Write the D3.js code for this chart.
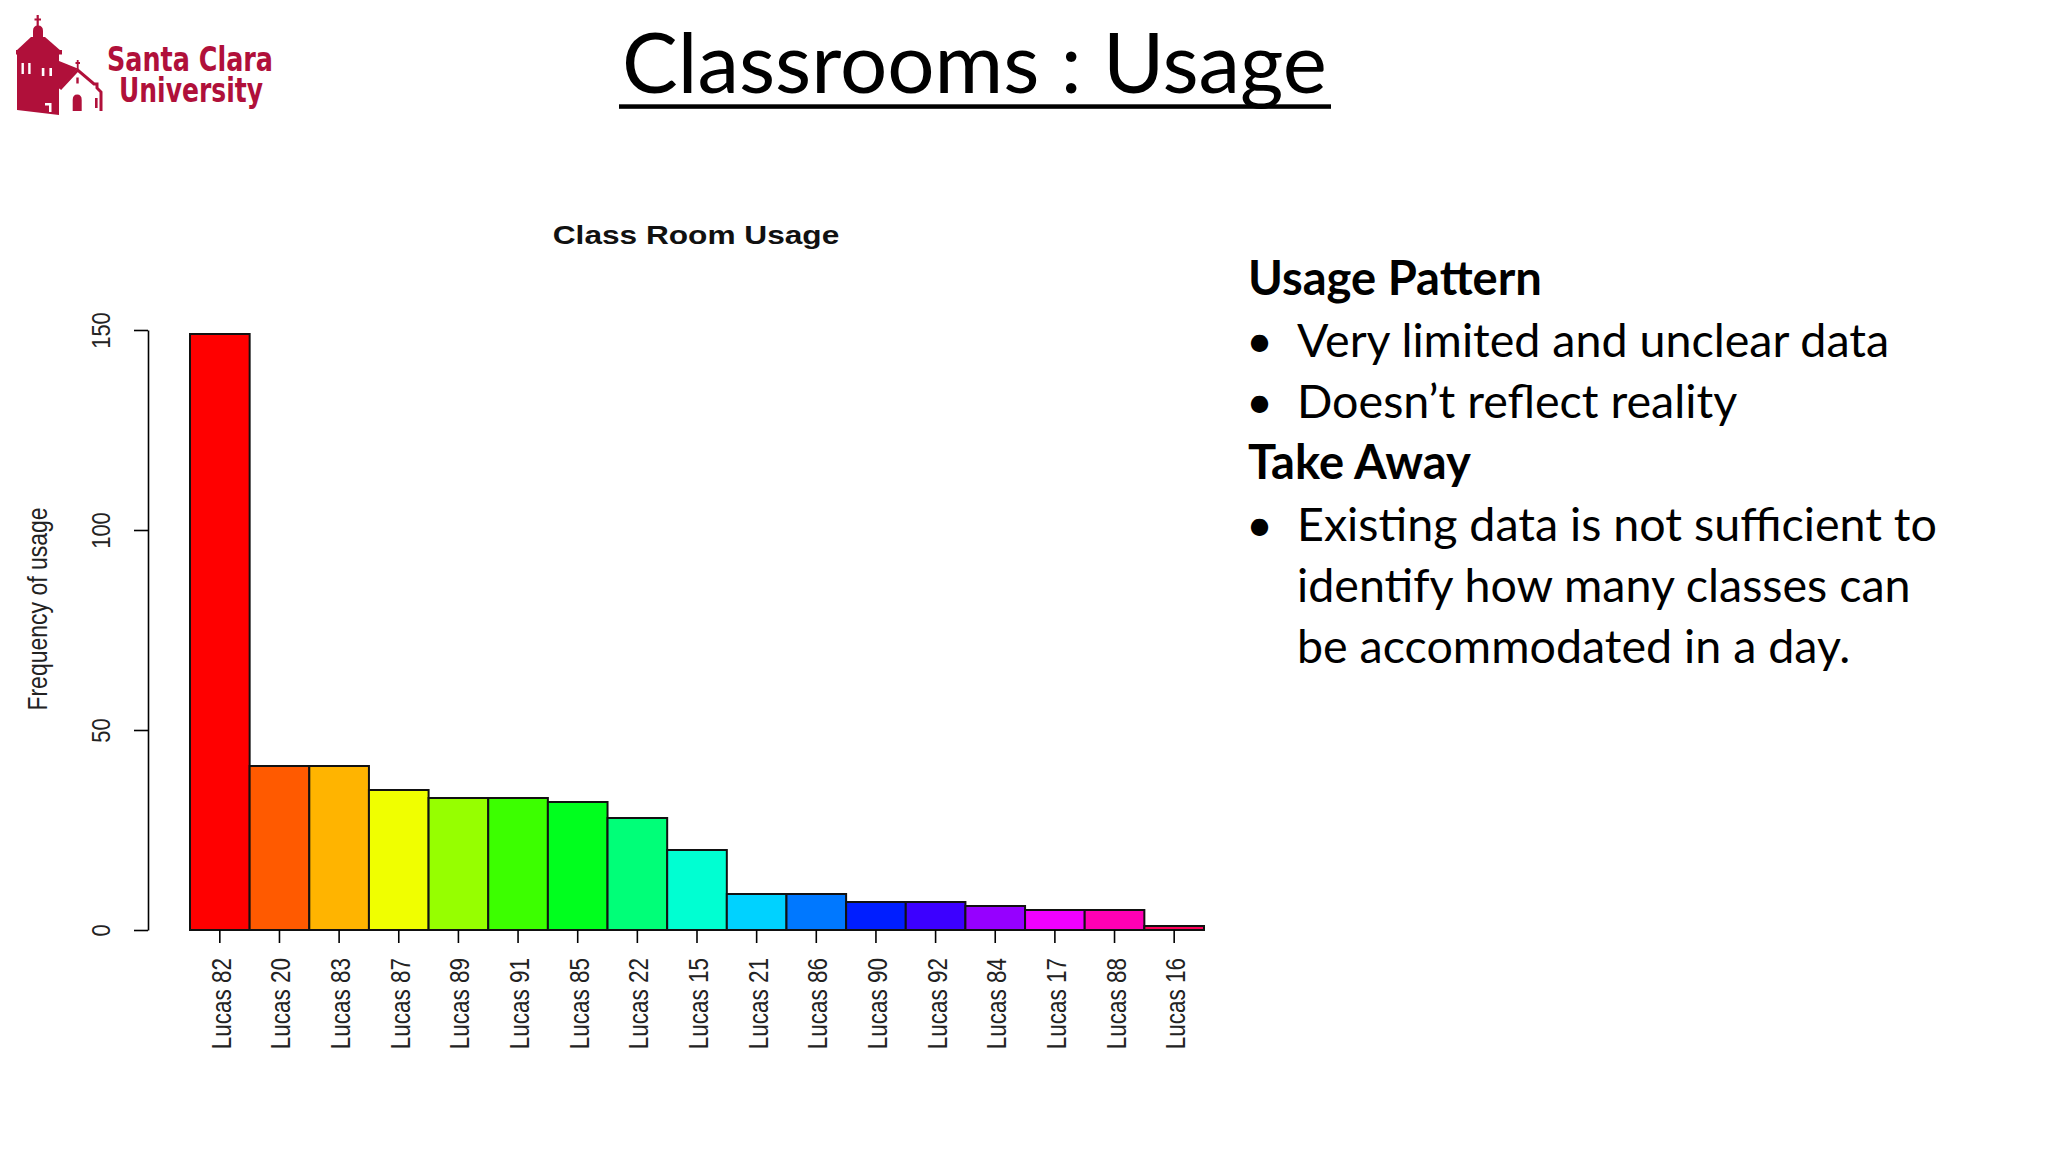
<!DOCTYPE html>
<html>
<head>
<meta charset="utf-8">
<script src="https://cdn.jsdelivr.net/npm/d3@7"></script>
<style>
  html, body { margin: 0; padding: 0; background: #ffffff; }
  svg { display: block; }
</style>
</head>
<body>
<script>
// ---------------- data ----------------
const categories = ["Lucas 82","Lucas 20","Lucas 83","Lucas 87","Lucas 89","Lucas 91","Lucas 85","Lucas 22","Lucas 15","Lucas 21","Lucas 86","Lucas 90","Lucas 92","Lucas 84","Lucas 17","Lucas 88","Lucas 16"];
const usage = [149, 41, 41, 35, 33, 33, 32, 28, 20, 9, 9, 7, 7, 6, 5, 5, 1];
const yTicks = [0, 50, 100, 150];
const chartTitle = "Class Room Usage";
const yLabel = "Frequency of usage";
const slideTitle = "Classrooms : Usage";
const logoLines = ["Santa Clara", "University"];
const notes = [
  { kind: "head",   text: "Usage Pattern" },
  { kind: "bullet", text: "Very limited and unclear data" },
  { kind: "bullet", text: "Doesn\u2019t reflect reality" },
  { kind: "head",   text: "Take Away" },
  { kind: "bullet", text: "Existing data is not sufficient to" },
  { kind: "cont",   text: "identify how many classes can" },
  { kind: "cont",   text: "be accommodated in a day." }
];

// ---------------- setup ----------------
const W = 2048, H = 1152;
const svg = d3.select("body").append("svg").attr("width", W).attr("height", H);
svg.append("rect").attr("width", W).attr("height", H).attr("fill", "#ffffff");

const RFONT = "'Liberation Sans', Arial, Helvetica, sans-serif";
const SFONT = "Lato, 'Open Sans', sans-serif";
const STRETCH = 1.2;   // horizontal stretch of the embedded R picture

// ---------------- chart ----------------
const x = d3.scaleBand().domain(categories).range([190, 1204]).padding(0);
const y = d3.scaleLinear().domain([0, 150]).range([930, 330]);
const n = categories.length;
const color = i => d3.hsl(360 * i / n, 1, 0.5).formatHex();

const chart = svg.append("g");

chart.selectAll("rect.bar")
  .data(usage)
  .join("rect")
  .attr("class", "bar")
  .attr("x", (d, i) => x(categories[i]))
  .attr("y", d => y(d))
  .attr("width", x.bandwidth())
  .attr("height", d => y(0) - y(d))
  .attr("fill", (d, i) => color(i))
  .attr("stroke", "#111")
  .attr("stroke-width", 2);

// y axis
const yAxis = chart.append("g")
  .attr("transform", "translate(148,0)")
  .call(d3.axisLeft(y).tickValues(yTicks).tickSize(14).tickSizeOuter(0).tickFormat(d3.format("d")));
yAxis.select(".domain").attr("stroke", "#000").attr("stroke-width", 1.6);
yAxis.selectAll(".tick line").attr("stroke", "#000").attr("stroke-width", 1.6);
yAxis.selectAll(".tick text")
  .attr("x", null).attr("dy", null)
  .attr("transform", `translate(-38,0) rotate(-90) scale(1,${STRETCH})`)
  .attr("text-anchor", "middle")
  .attr("font-family", RFONT)
  .attr("font-size", 22)
  .attr("fill", "#222");

// x axis (ticks only)
const xAxis = chart.append("g")
  .attr("transform", `translate(0,${y(0)})`)
  .call(d3.axisBottom(x).tickSize(13).tickSizeOuter(0));
xAxis.select(".domain").remove();
xAxis.selectAll(".tick line").attr("stroke", "#000").attr("stroke-width", 1.6);
xAxis.selectAll(".tick text")
  .attr("y", null).attr("dy", null)
  .attr("transform", `translate(11,28) rotate(-90) scale(1,${STRETCH})`)
  .attr("text-anchor", "end")
  .attr("font-family", RFONT)
  .attr("font-size", 22.5)
  .attr("fill", "#222");

// y label
chart.append("text")
  .attr("transform", `translate(46.5,609) rotate(-90) scale(1,${STRETCH})`)
  .attr("text-anchor", "middle")
  .attr("font-family", RFONT)
  .attr("font-size", 23)
  .attr("fill", "#222")
  .text(yLabel);

// chart title
chart.append("text")
  .attr("transform", `translate(696,243.5) scale(${STRETCH * 1.03},1)`)
  .attr("text-anchor", "middle")
  .attr("font-family", RFONT)
  .attr("font-weight", "bold")
  .attr("font-size", 25.6)
  .attr("fill", "#111")
  .text(chartTitle);

// ---------------- slide title ----------------
function fitSize(sel, target) {
  sel.attr("font-size", 100);
  const w = sel.node().getComputedTextLength();
  const fs = 100 * target / w;
  sel.attr("font-size", fs);
  return fs;
}
const titleText = svg.append("text")
  .attr("x", 622).attr("y", 93)
  .attr("font-family", SFONT)
  .attr("fill", "#000")
  .text(slideTitle);
fitSize(titleText, 705);
svg.append("rect")
  .attr("x", 619).attr("y", 104.3)
  .attr("width", 1331 - 619).attr("height", 4.5)
  .attr("fill", "#000");

// ---------------- notes ----------------
const baselines = [295, 357, 418, 479, 541, 602, 663];
const notesG = svg.append("g").attr("font-family", SFONT).attr("fill", "#000");
// measure body size from the longest line, head size from first head
const probeBody = notesG.append("text").text(notes[4].text);
const bodySize = fitSize(probeBody, 640);
probeBody.remove();
const probeHead = notesG.append("text").attr("font-weight", "bold").text(notes[0].text);
const headSize = fitSize(probeHead, 294);
probeHead.remove();

notes.forEach((d, i) => {
  if (d.kind === "head") {
    notesG.append("text")
      .attr("x", 1248).attr("y", baselines[i])
      .attr("font-weight", "bold").attr("font-size", headSize)
      .text(d.text);
  } else {
    if (d.kind === "bullet") {
      notesG.append("text")
        .attr("x", 1246).attr("y", baselines[i])
        .attr("font-size", bodySize)
        .text("\u2022");
    }
    notesG.append("text")
      .attr("x", 1297).attr("y", baselines[i])
      .attr("font-size", bodySize)
      .text(d.text);
  }
});

// ---------------- logo ----------------
const RED = "#B0103A";
const logo = svg.append("g");
// lantern cross
logo.append("path").attr("d", "M37.7,15V27 M34.5,19.5H41").attr("stroke", RED).attr("stroke-width", 2.2).attr("fill", "none");
// lantern
logo.append("path").attr("d", "M33,38V31Q33,25.5 38,25.5Q43,25.5 43,31V38Z").attr("fill", RED);
// tower roof
logo.append("path").attr("d", "M31,37H45L61,51H16Z").attr("fill", RED);
// eave
logo.append("rect").attr("x", 16).attr("y", 50).attr("width", 46).attr("height", 4.5).attr("fill", RED);
// tower body
logo.append("path").attr("d", "M17,54H59V115L17,110Z").attr("fill", RED);
// tower details (white)
[[21.5, 63, 2.4, 11], [28.2, 63, 2.4, 11], [41.8, 68, 2.6, 8], [49.4, 68, 2.6, 8]].forEach(r =>
  logo.append("rect").attr("x", r[0]).attr("y", r[1]).attr("width", r[2]).attr("height", r[3]).attr("fill", "#fff"));
logo.append("path").attr("d", "M45,103H51.5V112H49V105.5H45Z").attr("fill", "#fff");
// nave roof side
logo.append("path").attr("d", "M59,61L77.7,68.5L59,89Z").attr("fill", RED);
// facade
logo.append("path")
  .attr("d", "M60,89L77.7,70L94,84H97V88L101,92V111")
  .attr("fill", "#fff").attr("stroke", RED).attr("stroke-width", 3).attr("stroke-linejoin", "miter");
// small cross on gable
logo.append("path").attr("d", "M77.7,60V69 M75.5,63H80").attr("stroke", RED).attr("stroke-width", 1.8).attr("fill", "none");
// facade window, door, side mark
logo.append("rect").attr("x", 76.3).attr("y", 77.5).attr("width", 2.4).attr("height", 6).attr("fill", RED);
logo.append("path").attr("d", "M72.7,111V100Q72.7,94.5 77.2,94.5Q81.7,94.5 81.7,100V111Z").attr("fill", RED);
logo.append("rect").attr("x", 95).attr("y", 98).attr("width", 2.6).attr("height", 10).attr("fill", RED);

const LFONT = "'Liberation Sans Narrow', 'Arial Narrow', 'DejaVu Sans Condensed', 'Roboto Condensed', sans-serif";
logo.append("text").attr("x", 107).attr("y", 70.7)
  .attr("font-family", LFONT).attr("font-weight", "bold").attr("font-size", 34.5)
  .attr("fill", RED).attr("textLength", 166).attr("lengthAdjust", "spacingAndGlyphs")
  .text(logoLines[0]);
logo.append("text").attr("x", 119).attr("y", 101.7)
  .attr("font-family", LFONT).attr("font-weight", "bold").attr("font-size", 34.5)
  .attr("fill", RED).attr("textLength", 144).attr("lengthAdjust", "spacingAndGlyphs")
  .text(logoLines[1]);
</script>
</body>
</html>
